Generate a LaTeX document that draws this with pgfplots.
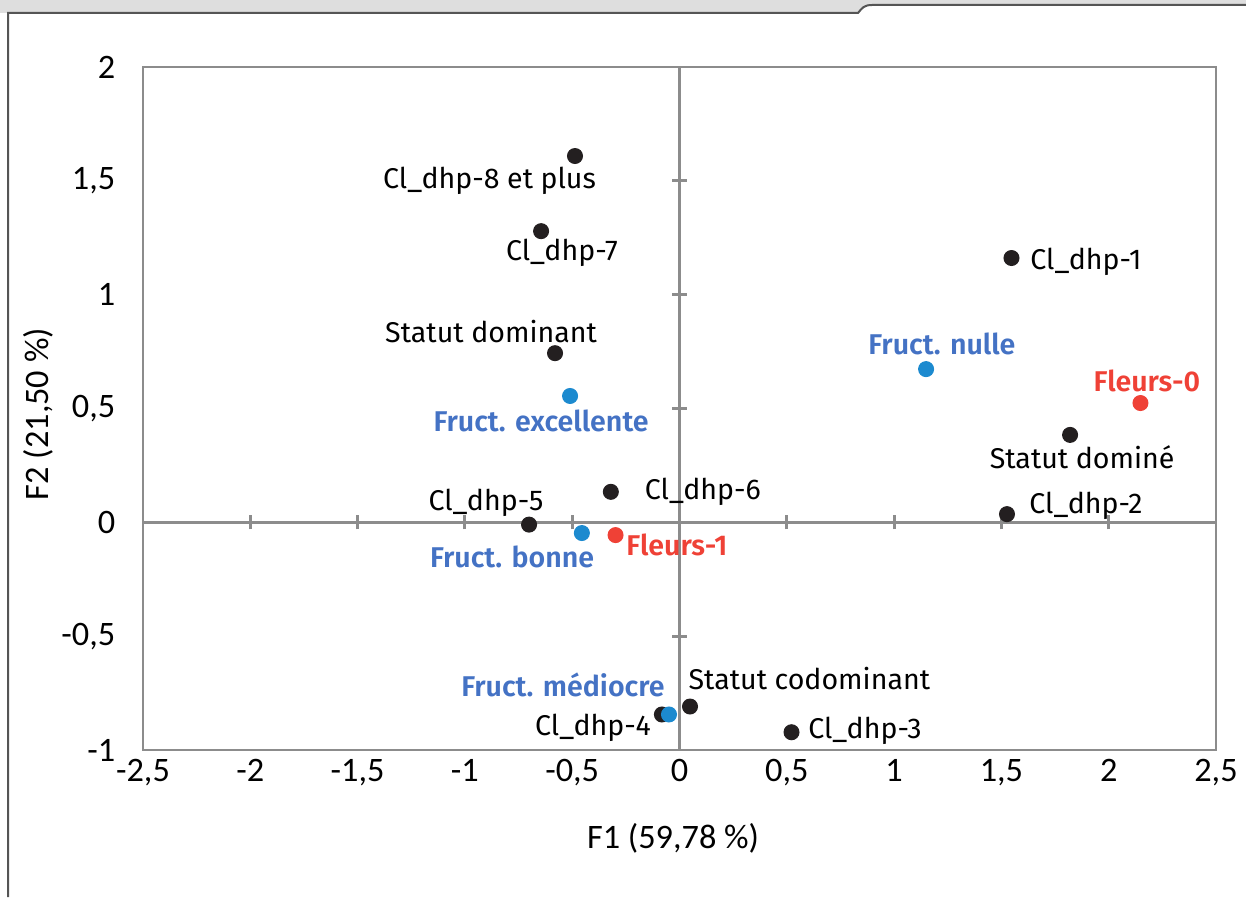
\documentclass[border=0pt]{standalone}
\usepackage{pgfplots}
\pgfplotsset{compat=1.18}
\usepackage{fontspec}
\setmainfont{Fira Sans}
\newfontfamily\carlito{Carlito}
\newfontfamily\firasb{Fira Sans SemiBold}
\definecolor{axisgray}{RGB}{140,140,140}
\definecolor{dotblack}{RGB}{35,31,32}
\definecolor{dotblue}{RGB}{28,138,207}
\definecolor{labblue}{RGB}{68,114,196}
\definecolor{dotred}{RGB}{239,65,54}
\definecolor{framegray}{RGB}{85,85,85}
\begin{document}
\begin{tikzpicture}
\useasboundingbox (0,0) rectangle (436.1pt,313.95pt);
\begin{scope}[shift={(0,313.95pt)},x=0.35pt,y=-0.35pt]
\fill[black!13] (0,0) -- (1246,0) -- (1246,5) -- (872,5) .. controls (864,5) and (862,8) .. (858,13) -- (0,13) -- cycle;
\draw[framegray,line width=0.7pt] (8,897) -- (8,13) -- (858,13) .. controls (862,8) and (864,5) .. (872,5) -- (1246,5);
\end{scope}
\begin{axis}[
  at={(50.05pt,51.45pt)}, anchor=south west,
  width=375.55pt, height=239.05pt, scale only axis,
  xmin=-2.5, xmax=2.5, ymin=-1, ymax=2,
  xtick={-2.5,-2,-1.5,-1,-0.5,0,0.5,1,1.5,2,2.5},
  ytick={-1,-0.5,0,0.5,1,1.5,2},
  axis line style={draw=axisgray, line width=1pt},
  major tick length=0pt, tick style={draw=none},
  /pgf/number format/.cd, use comma, assume math mode=true, /pgfplots/.cd,
  ticklabel style={font=\carlito\fontsize{12}{14}\selectfont, text=black},
  xticklabel style={anchor=north, inner sep=0pt, yshift=-3.2pt},
  yticklabel style={anchor=east, inner sep=0pt, xshift=-9.5pt},
  clip=false,
]
\draw[axisgray, line width=1pt] (axis cs:0,-1) -- (axis cs:0,2);
\draw[axisgray, line width=1pt] (axis cs:-2.5,0) -- (axis cs:2.5,0);
\pgfplotsinvokeforeach{-2.5,-2,-1.5,-1,-0.5,0.5,1,1.5,2}{
  \draw[axisgray, line width=1pt] ([yshift=-2.5pt]axis cs:#1,0) -- ([yshift=2.5pt]axis cs:#1,0);
}
\pgfplotsinvokeforeach{-1,-0.5,0.5,1,1.5}{
  \draw[axisgray, line width=1pt] ([xshift=-2.5pt]axis cs:0,#1) -- ([xshift=2.5pt]axis cs:0,#1);
}
% black points
\addplot[only marks, mark=*, mark size=2.6pt, draw=dotblack, fill=dotblack] coordinates {
 (-0.487,1.609) (-0.645,1.279) (1.547,1.161) (-0.580,0.743) (1.820,0.384)
 (-0.320,0.134) (1.526,0.036) (-0.701,-0.010) (0.049,-0.809) (-0.082,-0.844) (0.522,-0.922)
};
% blue points
\addplot[only marks, mark=*, mark size=2.6pt, draw=dotblue, fill=dotblue] coordinates {
 (1.149,0.673) (-0.510,0.555) (-0.455,-0.047) (-0.049,-0.844)
};
% red points
\addplot[only marks, mark=*, mark size=2.6pt, draw=dotred, fill=dotred] coordinates {
 (2.148,0.524) (-0.298,-0.056)
};
% labels
\begin{scope}[every node/.style={font=\fontsize{10}{12}\selectfont, inner sep=0pt}]
\node at (axis cs:-0.885,1.499) {Cl\_dhp-8 et plus};
\node at (axis cs:-0.548,1.183) {Cl\_dhp-7};
\node at (axis cs:1.894,1.143) {Cl\_dhp-1};
\node at (axis cs:-0.878,0.840) {Statut dominant};
\node at (axis cs:1.876,0.286) {Statut dominé};
\node at (axis cs:0.109,0.132) {Cl\_dhp-6};
\node at (axis cs:1.894,0.072) {Cl\_dhp-2};
\node at (axis cs:-0.902,0.085) {Cl\_dhp-5};
\node at (axis cs:0.605,-0.686) {Statut codominant};
\node at (axis cs:-0.403,-0.904) {Cl\_dhp-4};
\node at (axis cs:0.864,-0.917) {Cl\_dhp-3};
\node[text=labblue, font=\firasb\fontsize{10}{12}\selectfont] at (axis cs:1.223,0.783) {Fruct. nulle};
\node[text=labblue, font=\firasb\fontsize{10}{12}\selectfont] at (axis cs:-0.645,0.447) {Fruct. excellente};
\node[text=labblue, font=\firasb\fontsize{10}{12}\selectfont] at (axis cs:-0.780,-0.151) {Fruct. bonne};
\node[text=labblue, font=\firasb\fontsize{10}{12}\selectfont] at (axis cs:-0.543,-0.715) {Fruct. médiocre};
\node[text=dotred, font=\firasb\fontsize{10}{12}\selectfont] at (axis cs:2.178,0.619) {Fleurs-0};
\node[text=dotred, font=\firasb\fontsize{10}{12}\selectfont] at (axis cs:-0.012,-0.098) {Fleurs-1};
\end{scope}
\end{axis}
\begin{scope}[shift={(0,313.95pt)},x=0.35pt,y=-0.35pt]
\node[font=\carlito\fontsize{12}{14}\selectfont] at (673,838) {F1 (59,78 \%)};
\node[font=\carlito\fontsize{12}{14}\selectfont, rotate=90] at (38,414) {F2 (21,50 \%)};
\end{scope}
\end{tikzpicture}
\end{document}
